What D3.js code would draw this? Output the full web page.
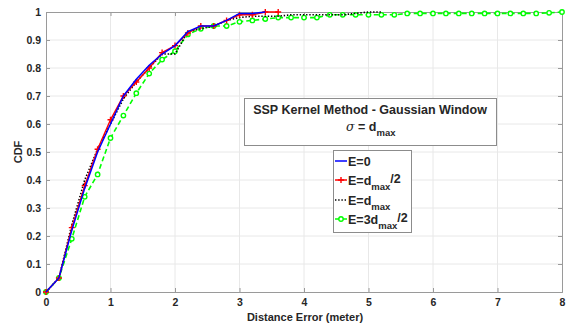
<!DOCTYPE html>
<html>
<head>
<meta charset="utf-8">
<script src="https://cdn.jsdelivr.net/npm/d3@7"></script>
<style>
  body { margin: 0; background: #fff; }
  svg text { font-family: "Liberation Sans", Arial, sans-serif; font-weight: bold; fill: #262626; }
</style>
</head>
<body>
<svg id="chart" width="570" height="327"></svg>
<script>
// distance error samples (meter)
var xsGreen = d3.range(0, 41).map(function(i) { return i * 0.2; });

var cdfE0 = [0, 0.05, 0.22, 0.37, 0.50, 0.60, 0.70, 0.76, 0.81, 0.85, 0.88, 0.93, 0.95, 0.95, 0.97, 0.995, 0.995, 1.0];
var cdfHalf = [0, 0.05, 0.23, 0.38, 0.51, 0.615, 0.70, 0.75, 0.80, 0.855, 0.88, 0.925, 0.95, 0.95, 0.97, 0.99, 0.99, 1.0, 1.0];
var cdfFull = [0, 0.05, 0.24, 0.40, 0.51, 0.60, 0.69, 0.75, 0.80, 0.85, 0.85, 0.93, 0.94, 0.95, 0.97, 0.98, 0.985, 0.985, 0.985,
               0.99, 0.99, 0.99, 0.99, 0.99, 0.995, 1.0, 1.0];
var cdfThreeHalf = [0, 0.05, 0.19, 0.34, 0.42, 0.55, 0.63, 0.71, 0.78, 0.83, 0.86, 0.92, 0.94, 0.95, 0.95, 0.965, 0.97, 0.975, 0.98,
                    0.98, 0.98, 0.98, 0.99, 0.99, 0.99, 0.99, 0.99, 0.99, 0.995, 0.995, 0.995, 0.995, 0.995, 0.995, 0.995,
                    0.995, 0.995, 0.995, 0.995, 0.997, 1.0];

var xTicks = [0, 1, 2, 3, 4, 5, 6, 7, 8];
var yTicks = [0, 0.1, 0.2, 0.3, 0.4, 0.5, 0.6, 0.7, 0.8, 0.9, 1];

function toPoints(vals) {
  return vals.map(function(v, i) { return [xsGreen[i], v]; });
}

var svg = d3.select('#chart');
// note: "top" is taken by window.top, so use plot* names
var plotL = 46, plotR = 562, plotT = 12, plotB = 292;

var x = d3.scaleLinear().domain([0, 8]).range([plotL, plotR]);
var y = d3.scaleLinear().domain([0, 1]).range([plotB, plotT]);

// grid
svg.append('g').selectAll('line')
  .data(xTicks.slice(1, -1)).enter().append('line')
  .attr('x1', function(d) { return x(d); }).attr('x2', function(d) { return x(d); })
  .attr('y1', plotT).attr('y2', plotB)
  .attr('stroke', '#e8e8e8').attr('stroke-width', 1);
svg.append('g').selectAll('line')
  .data(yTicks.slice(1, -1)).enter().append('line')
  .attr('x1', plotL).attr('x2', plotR)
  .attr('y1', function(d) { return y(d); }).attr('y2', function(d) { return y(d); })
  .attr('stroke', '#e8e8e8').attr('stroke-width', 1);

// axes with inward ticks
var axisColor = '#9a9a9a';
var gx = svg.append('g').attr('transform', 'translate(0,' + plotB + ')')
  .call(d3.axisBottom(x).tickValues(xTicks).tickSize(-4).tickPadding(7).tickFormat(d3.format('d')));
var gxTop = svg.append('g').attr('transform', 'translate(0,' + plotT + ')')
  .call(d3.axisTop(x).tickValues(xTicks).tickSize(-4).tickFormat(''));
var gy = svg.append('g').attr('transform', 'translate(' + plotL + ',0)')
  .call(d3.axisLeft(y).tickValues(yTicks).tickSize(-4).tickPadding(5).tickFormat(function(d) { return d === 0 || d === 1 ? d : d3.format('.1f')(d); }));
var gyRight = svg.append('g').attr('transform', 'translate(' + plotR + ',0)')
  .call(d3.axisRight(y).tickValues(yTicks).tickSize(-4).tickFormat(''));

[gx, gxTop, gy, gyRight].forEach(function(g) {
  g.select('.domain').attr('stroke', axisColor);
  g.selectAll('.tick line').attr('stroke', axisColor);
  g.selectAll('.tick text').attr('font-size', 10.5).attr('fill', '#262626')
    .attr('font-family', '"Liberation Sans", Arial, sans-serif').attr('font-weight', 'bold');
});

// axis labels
svg.append('text').attr('x', (plotL + plotR) / 2 + 1).attr('y', 321)
  .attr('text-anchor', 'middle').attr('font-size', 11).text('Distance Error (meter)');
svg.append('text').attr('transform', 'translate(22,152) rotate(-90)')
  .attr('text-anchor', 'middle').attr('font-size', 11).text('CDF');

var line = d3.line().x(function(d) { return x(d[0]); }).y(function(d) { return y(d[1]); });
var plot = svg.append('g');

// E=3dmax/2 : green dashed with circles
var pGreen = toPoints(cdfThreeHalf);
plot.append('path').attr('d', line(pGreen)).attr('fill', 'none')
  .attr('stroke', '#00ff00').attr('stroke-width', 1.6).attr('stroke-dasharray', '5,3');
plot.append('g').selectAll('circle').data(pGreen).enter().append('circle')
  .attr('cx', function(d) { return x(d[0]); }).attr('cy', function(d) { return y(d[1]); })
  .attr('r', 2.2).attr('fill', '#fff').attr('stroke', '#00ff00').attr('stroke-width', 1.4);

// E=dmax : black dotted
plot.append('path').attr('d', line(toPoints(cdfFull))).attr('fill', 'none')
  .attr('stroke', '#000').attr('stroke-width', 1.6).attr('stroke-dasharray', '1.4,1.8');

// E=dmax/2 : red with plus markers
var pRed = toPoints(cdfHalf);
plot.append('path').attr('d', line(pRed)).attr('fill', 'none')
  .attr('stroke', '#ff0000').attr('stroke-width', 1.4);
plot.append('g').selectAll('path').data(pRed).enter().append('path')
  .attr('d', function(d) {
    var cx = x(d[0]), cy = y(d[1]);
    return 'M' + (cx - 3) + ',' + cy + 'H' + (cx + 3) + 'M' + cx + ',' + (cy - 3) + 'V' + (cy + 3);
  })
  .attr('stroke', '#ff0000').attr('stroke-width', 1.4);

// E=0 : blue solid
plot.append('path').attr('d', line(toPoints(cdfE0))).attr('fill', 'none')
  .attr('stroke', '#0000ff').attr('stroke-width', 1.5);

// annotation box
svg.append('rect').attr('x', 244.5).attr('y', 98.5).attr('width', 252).attr('height', 47)
  .attr('fill', '#fff').attr('stroke', '#8c8c8c').attr('stroke-width', 1);
svg.append('text').attr('x', 370).attr('y', 114).attr('text-anchor', 'middle')
  .attr('font-size', 12.5).text('SSP Kernel Method - Gaussian Window');
var sig = svg.append('text').attr('x', 346).attr('y', 131).attr('font-size', 12.5);
sig.append('tspan').attr('font-family', '"DejaVu Serif", serif').attr('font-style', 'italic')
  .attr('font-weight', 'normal').text('σ');
sig.append('tspan').text(' = d');
sig.append('tspan').attr('font-size', 9.5).attr('dy', 5).text('max');

// legend
var legend = svg.append('g');
legend.append('rect').attr('x', 333.5).attr('y', 150.5).attr('width', 78).attr('height', 82)
  .attr('fill', '#fff').attr('stroke', '#8c8c8c').attr('stroke-width', 1);

var legendRows = [
  { y: 161, color: '#0000ff', dash: null, marker: null, main: 'E=0', sub: null, tail: null },
  { y: 180, color: '#ff0000', dash: null, marker: 'plus', main: 'E=d', sub: 'max', tail: '/2' },
  { y: 200, color: '#000', dash: '1.4,1.8', marker: null, main: 'E=d', sub: 'max', tail: null },
  { y: 219, color: '#00ff00', dash: '5,3', marker: 'circle', main: 'E=3d', sub: 'max', tail: '/2' }
];

legendRows.forEach(function(r) {
  legend.append('line').attr('x1', 335).attr('x2', 347).attr('y1', r.y).attr('y2', r.y)
    .attr('stroke', r.color).attr('stroke-width', 1.5).attr('stroke-dasharray', r.dash);
  if (r.marker === 'plus') {
    legend.append('path').attr('d', 'M338,' + r.y + 'H344M341,' + (r.y - 3) + 'V' + (r.y + 3))
      .attr('stroke', r.color).attr('stroke-width', 1.4);
  } else if (r.marker === 'circle') {
    legend.append('circle').attr('cx', 341).attr('cy', r.y).attr('r', 2.2)
      .attr('fill', '#fff').attr('stroke', r.color).attr('stroke-width', 1.4);
  }
  var t = legend.append('text').attr('x', 348).attr('y', r.y + 4.5).attr('font-size', 12.5);
  t.append('tspan').text(r.main);
  if (r.sub) t.append('tspan').attr('font-size', 9.5).attr('dy', 5).text(r.sub);
  if (r.tail) t.append('tspan').attr('dy', -7).text(r.tail);
});
</script>
</body>
</html>
